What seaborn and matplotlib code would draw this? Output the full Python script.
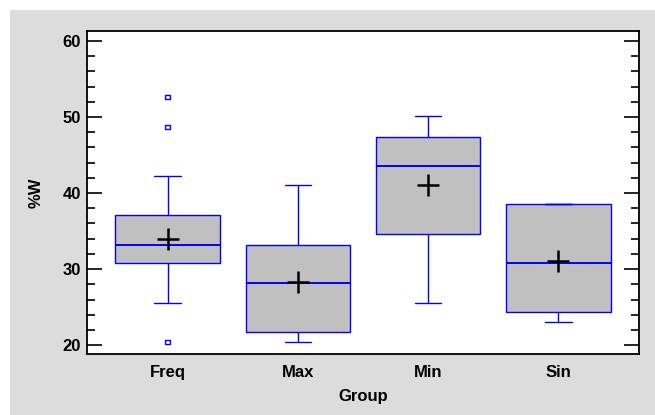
import numpy as np
import pandas as pd
import matplotlib
matplotlib.use("Agg")
from matplotlib import pyplot as plt
from matplotlib.patches import Rectangle
from matplotlib.ticker import MultipleLocator
import seaborn as sns

# values
groups = ["Freq", "Max", "Min", "Sin"]
whisker_low = [25.5, 20.4, 25.5, 23.1]
q1 = [30.8, 21.7, 34.6, 24.3]
median = [33.2, 28.2, 43.6, 30.8]
q3 = [37.1, 33.2, 47.4, 38.5]
whisker_high = [42.3, 41.1, 50.1, 38.5]
means = [34.0, 28.3, 41.1, 31.0]

outlier_group = ["Freq", "Freq", "Freq"]
outlier_value = [52.6, 48.7, 20.4]

# five-number summary per group as long table for seaborn
rows = []
for i, g in enumerate(groups):
    for v in [whisker_low[i], q1[i], median[i], q3[i], whisker_high[i]]:
        rows.append({"Group": g, "%W": v})
box_df = pd.DataFrame(rows)

sns.set_style("white")
plt.rcParams["font.family"] = ["Liberation Sans", "DejaVu Sans"]
plt.rcParams["font.weight"] = "bold"
for key in ["text.color", "axes.labelcolor", "xtick.color", "ytick.color"]:
    plt.rcParams[key] = "black"

fig = plt.figure(figsize=(6.55, 4.15), dpi=100)
fig.patch.set_facecolor("white")
fig.add_artist(Rectangle((10 / 655, 0), 1, 405 / 415, transform=fig.transFigure,
                         facecolor="#dcdcdc", edgecolor="none", zorder=-10))
ax = fig.add_axes([86.7 / 655, 1 - 354.3 / 415, (639.3 - 86.7) / 655, (354.3 - 31) / 415])
ax.set_facecolor("white")

blue = "#0000ff"
sns.boxplot(data=box_df, x="Group", y="%W", order=groups, whis=(0, 100),
            width=0.8, color="#c0c0c0", linecolor=blue, linewidth=1.0,
            saturation=1, showfliers=False, medianprops={"linewidth": 1.4}, ax=ax)

# shorter caps like the reference
for line in ax.lines:
    xd = np.asarray(line.get_xdata(), dtype=float)
    yd = np.asarray(line.get_ydata(), dtype=float)
    if len(xd) == 2 and yd[0] == yd[1] and abs(xd[1] - xd[0]) < 0.5:
        c = xd.mean()
        line.set_xdata([c - 0.1, c + 0.1])

sns.stripplot(x=outlier_group, y=outlier_value, order=groups, jitter=False,
              marker="s", size=3, color="none", edgecolor=blue, linewidth=1.0, ax=ax)
sns.stripplot(x=groups, y=means, order=groups, jitter=False, marker="+",
              size=16, color="black", linewidth=1.8, ax=ax, zorder=5)

ax.set_xlim(-0.62, 3.62)
ax.set_ylim(18.8, 61.3)
ax.yaxis.set_major_locator(MultipleLocator(10))
ax.yaxis.set_minor_locator(MultipleLocator(2))
ax.tick_params(axis="y", which="major", direction="in", length=11, width=1.2,
               left=True, right=True, labelsize=12, pad=4, color="black")
ax.tick_params(axis="y", which="minor", direction="in", length=5.5, width=1.2,
               left=True, right=True, color="black")
ax.tick_params(axis="x", length=0, labelsize=12, pad=8)
for lab in ax.get_xticklabels() + ax.get_yticklabels():
    lab.set_fontweight("bold")
    lab.set_color("black")
for sp in ax.spines.values():
    sp.set_color("black")
    sp.set_linewidth(1.3)

ax.set_xlabel("Group", fontsize=12, fontweight="bold", labelpad=6)
ax.set_ylabel("%W", fontsize=12, fontweight="bold", labelpad=14)

fig.savefig("out.png", dpi=100)
plt.close(fig)
